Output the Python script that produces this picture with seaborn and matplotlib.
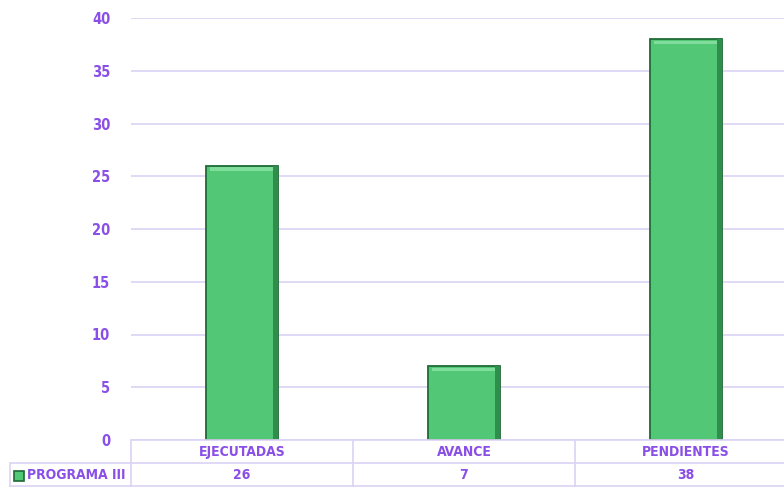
import matplotlib
matplotlib.use("Agg")
import matplotlib.pyplot as plt
import matplotlib.patches as mpatches
import seaborn as sns
import pandas as pd

# data
categories = ["EJECUTADAS", "AVANCE", "PENDIENTES"]
values = [26, 7, 38]
series_name = "PROGRAMA III"

purple = "#8A4FE6"
grid_col = "#DCD3F5"
green = "#52C776"
edge = "#1E6A36"

sns.set_style("white")
plt.rcParams["font.family"] = ["DejaVu Sans"]
plt.rcParams["font.stretch"] = "condensed"

W, H = 784, 487
fig = plt.figure(figsize=(W / 100, H / 100), dpi=100)
x0, x1, ytop, ybot = 131, 797, 18, 440
ax = fig.add_axes([x0 / W, (H - ybot) / H, (x1 - x0) / W, (ybot - ytop) / H])

df = pd.DataFrame({"cat": categories, "val": values})
sns.barplot(data=df, x="cat", y="val", color=green, width=0.32,
            edgecolor=edge, linewidth=1.3, saturation=1, ax=ax, zorder=3)

# bevel: light top strip, darker right strip
for p in ax.patches[:len(values)]:
    bx, bw, bh = p.get_x(), p.get_width(), p.get_height()
    ax.add_patch(mpatches.Rectangle((bx + bw * 0.05, bh - 0.5), bw * 0.9, 0.35,
                                    color="#80DD9B", zorder=4, lw=0))
    ax.add_patch(mpatches.Rectangle((bx + bw * 0.93, 0), bw * 0.07, bh,
                                    color="#2F8E4C", zorder=4, lw=0))

ax.set_ylim(0, 40)
ax.set_xlim(-0.5, 2.5)
ax.set_yticks(range(0, 41, 5))
ax.yaxis.grid(True, color=grid_col, lw=1.2, zorder=0)
ax.tick_params(axis="y", length=0, pad=15, labelsize=10.5, labelcolor=purple)
for t in ax.get_yticklabels():
    t.set_fontweight("bold")
ax.set_xticks([])
ax.set_xlabel("")
ax.set_ylabel("")
for s in ax.spines.values():
    s.set_visible(False)

# data table under the chart (figure pixel coords)
def fx(px):
    return px / W

def fy(py):
    return (H - py) / H

lines = [
    ((x0, 440), (x1, 440)),
    ((10, 463), (x1, 463)),
    ((10, 486), (x1, 486)),
    ((10, 463), (10, 487)),
]
cw = (x1 - x0) / 3
for i in range(4):
    xx = x0 + i * cw
    lines.append(((xx, 440), (xx, 487)))
for (a, b) in lines:
    fig.add_artist(plt.Line2D([fx(a[0]), fx(b[0])], [fy(a[1]), fy(b[1])],
                              color=grid_col, lw=1.2))

for i, (c, v) in enumerate(zip(categories, values)):
    cx = x0 + (i + 0.5) * cw
    fig.text(fx(cx), fy(452), c, ha="center", va="center", color=purple,
             fontsize=10, fontweight="bold")
    fig.text(fx(cx), fy(475), str(v), ha="center", va="center", color=purple,
             fontsize=10, fontweight="bold")

fig.add_artist(mpatches.Rectangle((fx(14), fy(481)), 10 / W, 10 / H,
                                  facecolor=green, edgecolor=edge, lw=1.2))
fig.text(fx(27), fy(475), series_name, ha="left", va="center", color=purple,
         fontsize=10, fontweight="bold")

fig.savefig("out.png", dpi=100)
